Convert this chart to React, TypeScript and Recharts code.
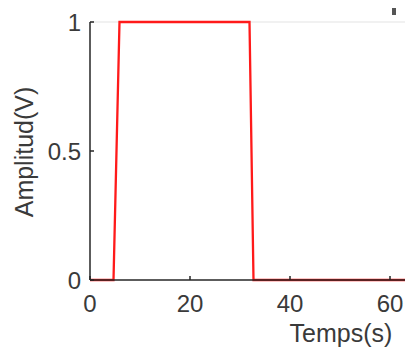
import React from 'react';
import { LineChart, Line, XAxis, YAxis, ReferenceLine } from 'recharts';

const timeValues = [0, 4.7, 5.9, 31.9, 32.7, 63];
const amplitudeValues = [0, 0, 1, 1, 0, 0];
const xTicks = [0, 20, 40, 60];
const yTicks = [0, 0.5, 1];

const data = timeValues.map((t, i) => ({ t, a: amplitudeValues[i] }));

const FONT = '"Liberation Sans", Arial, sans-serif';
const TEXT = '#3a3a3a';
const AXIS = '#262626';

const XTick = (props: any) => {
  const { x, y, payload } = props;
  return (
    <g>
      <line x1={x} x2={x} y1={y} y2={y - 4} stroke={AXIS} strokeWidth={1.5} />
      <text x={x} y={y + 32} textAnchor="middle" fontSize={24} fontFamily={FONT} fill={TEXT}>
        {payload.value}
      </text>
    </g>
  );
};

const YTick = (props: any) => {
  const { x, y, payload } = props;
  return (
    <g>
      <line x1={x} x2={x + 4} y1={y} y2={y} stroke={AXIS} strokeWidth={1.5} />
      <text x={x - 9} y={y + 8.5} textAnchor="end" fontSize={24} fontFamily={FONT} fill={TEXT}>
        {payload.value}
      </text>
    </g>
  );
};

const YLabel = (props: any) => {
  const vb = props.viewBox || { x: 0, y: 22, width: 90, height: 258 };
  const cx = vb.x + 33;
  const cy = vb.y + vb.height / 2 + 1;
  return (
    <text
      x={cx}
      y={cy}
      transform={`rotate(-90, ${cx}, ${cy})`}
      textAnchor="middle"
      fontSize={25}
      fontFamily={FONT}
      fill={TEXT}
    >
      Amplitud(V)
    </text>
  );
};

const XLabel = (props: any) => {
  const vb = props.viewBox || { x: 90, y: 280, width: 315, height: 69 };
  return (
    <text x={vb.x + 251} y={vb.y + 62} textAnchor="middle" fontSize={25} fontFamily={FONT} fill={TEXT}>
      Temps(s)
    </text>
  );
};

export default function App() {
  return (
    <div style={{ position: 'absolute', left: 0, top: 0, width: 405, height: 349, background: '#fff' }}>
      <LineChart width={405} height={349} data={data} margin={{ top: 22, right: 0, bottom: 0, left: 0 }}>
        <XAxis
          dataKey="t"
          type="number"
          domain={[0, 63]}
          ticks={xTicks}
          tickSize={0}
          tickMargin={0}
          tickLine={false}
          tick={<XTick />}
          height={69}
          axisLine={{ stroke: AXIS, strokeWidth: 1.5 }}
          label={<XLabel />}
          allowDataOverflow
        />
        <YAxis
          type="number"
          domain={[0, 1]}
          ticks={yTicks}
          tickSize={0}
          tickMargin={0}
          tickLine={false}
          tick={<YTick />}
          width={90}
          axisLine={{ stroke: AXIS, strokeWidth: 1.5 }}
          label={<YLabel />}
        />
        <ReferenceLine y={1} stroke="#ededed" strokeWidth={1.5} />
        <Line
          type="linear"
          dataKey="a"
          stroke="#ff1a1a"
          strokeWidth={2.3}
          dot={false}
          isAnimationActive={false}
        />
      </LineChart>
      <div style={{ position: 'absolute', left: 392, top: 8, width: 4, height: 7, background: '#555' }} />
    </div>
  );
}
